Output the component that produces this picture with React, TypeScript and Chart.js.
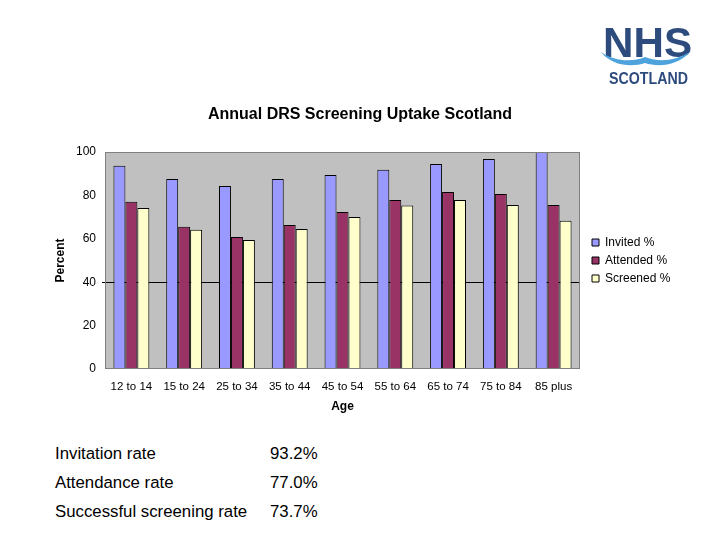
import React, { useEffect, useRef } from "react";
import { Chart, registerables } from "chart.js";

Chart.register(...registerables);

const categories = ["12 to 14", "15 to 24", "25 to 34", "35 to 44", "45 to 54", "55 to 64", "65 to 74", "75 to 84", "85 plus"];
const invited = [93.7, 87.6, 84.3, 87.6, 89.4, 91.8, 94.5, 96.8, 100];
const attended = [77.1, 65.6, 60.8, 66.4, 72.4, 77.9, 81.6, 80.6, 75.6];
const screened = [74.2, 64.2, 59.4, 64.5, 70.0, 75.4, 77.9, 75.6, 68.3];
const yTicks = [0, 20, 40, 60, 80, 100];
const summaryLabels = ["Invitation rate", "Attendance rate", "Successful screening rate"];
const summaryValues = ["93.2%", "77.0%", "73.7%"];

const FONT = "'Liberation Sans', Arial, Helvetica, sans-serif";

export default function App() {
  const ref = useRef<HTMLCanvasElement>(null);

  useEffect(() => {
    if (!ref.current) return;

    const legendFont = 12;
    const legendPad = 6;
    const boxW = 7;
    const mctx = document.createElement("canvas").getContext("2d")!;
    mctx.font = `${legendFont}px ${FONT}`;
    const maxText = Math.max(...["Invited %", "Attended %", "Screened %"].map((t) => mctx.measureText(t).width));
    const legendW = legendPad + boxW + legendFont / 2 + maxText + 10;
    const plotRight = 580;
    const padSide = 720 - plotRight - legendW;

    const plotBg = {
      id: "plotBg",
      beforeDraw(chart: any) {
        const { ctx, chartArea: a } = chart;
        ctx.save();
        ctx.fillStyle = "#C0C0C0";
        ctx.fillRect(a.left, a.top, a.right - a.left, a.bottom - a.top);
        ctx.restore();
      },
      afterDraw(chart: any) {
        const { ctx, chartArea: a } = chart;
        ctx.save();
        ctx.strokeStyle = "#808080";
        ctx.lineWidth = 1;
        ctx.strokeRect(Math.round(a.left) + 0.5, Math.round(a.top) + 0.5, Math.round(a.right - a.left) - 1, Math.round(a.bottom - a.top) - 1);
        ctx.restore();
      },
    };

    const legendShift = {
      id: "legendShift",
      afterUpdate(chart: any) {
        if (chart.legend) {
          chart.legend.left += 6;
          chart.legend.right += 6;
        }
      },
    };

    Chart.defaults.font.family = FONT;
    Chart.defaults.color = "#000";

    const chart = new Chart(ref.current, {
      type: "bar",
      data: {
        labels: categories,
        datasets: [
          { label: "Invited %", data: invited, backgroundColor: "#9999FF", borderColor: "#000", borderWidth: 1 },
          { label: "Attended %", data: attended, backgroundColor: "#993366", borderColor: "#000", borderWidth: 1 },
          { label: "Screened %", data: screened, backgroundColor: "#FFFFCC", borderColor: "#000", borderWidth: 1 },
        ],
      },
      options: {
        responsive: false,
        animation: false,
        devicePixelRatio: 1,
        layout: { padding: { top: 100, left: padSide, right: padSide, bottom: 0 } },
        datasets: { bar: { categoryPercentage: 0.68, barPercentage: 1 } },
        plugins: {
          title: {
            display: true,
            text: "Annual DRS Screening Uptake Scotland",
            font: { size: 16, weight: "bold" },
            color: "#000",
            padding: { top: 5, bottom: 27.8 },
          },
          legend: {
            position: "right",
            fullSize: false,
            labels: {
              boxWidth: boxW,
              boxHeight: boxW,
              padding: legendPad,
              font: { size: legendFont },
              color: "#000",
            },
          },
          tooltip: { enabled: false },
        },
        scales: {
          x: {
            grid: { display: false, drawTicks: false },
            border: { display: false },
            ticks: { font: { size: 11.5 }, color: "#000", padding: 11, maxRotation: 0, autoSkip: false },
            title: { display: true, text: "Age", font: { size: 12, weight: "bold" }, color: "#000", padding: { top: 0, bottom: 15.8 } },
            afterFit: (s: any) => { s.height = 61; },
          },
          y: {
            min: 0,
            max: 100,
            afterBuildTicks: (s: any) => { s.ticks = yTicks.map((v) => ({ value: v })); },
            grid: {
              color: (c: any) => (c.tick && c.tick.value === 40 ? "#000" : "rgba(0,0,0,0)"),
              tickLength: 3,
              lineWidth: 1,
            },
            border: { display: false },
            ticks: { font: { size: 12 }, color: "#000", padding: 6 },
            title: { display: true, text: "Percent", font: { size: 12, weight: "bold" }, color: "#000", padding: { top: 60.5 - padSide - 7.2, bottom: 0 } },
            afterFit: (s: any) => { s.width = 105 - padSide; },
          },
        },
      },
      plugins: [plotBg, legendShift],
    });
    return () => chart.destroy();
  }, []);

  return (
    <div style={{ position: "fixed", left: 0, top: 0, width: 720, height: 540, background: "#fff", overflow: "hidden", fontFamily: FONT }}>
      <canvas ref={ref} width={720} height={430} style={{ position: "absolute", left: 0, top: 0, width: 720, height: 430 }} />
      <svg width={105} height={70} viewBox="0 0 105 70" style={{ position: "absolute", left: 595, top: 20 }}>
        <text x={8} y={37} fontFamily={FONT} fontWeight="bold" fontSize={42} fill="#2D4B7C" textLength={89} lengthAdjust="spacingAndGlyphs">NHS</text>
        <path d="M6 32 C 20 42, 38 42, 50 37 C 62 42, 80 42, 96 31 C 82 47, 62 47, 50 43 C 38 47, 18 47, 6 32 Z" fill="#4FA3DC" />
        <text x={14} y={64} fontFamily={FONT} fontWeight="bold" fontSize={16.5} fill="#2D4B7C" textLength={79} lengthAdjust="spacingAndGlyphs">SCOTLAND</text>
      </svg>
      {summaryLabels.map((l, i) => (
        <React.Fragment key={l}>
          <div style={{ position: "absolute", left: 55, top: 439 + i * 29, fontSize: 16.8, lineHeight: "29px", color: "#000", whiteSpace: "nowrap" }}>{l}</div>
          <div style={{ position: "absolute", left: 270, top: 439 + i * 29, fontSize: 16.8, lineHeight: "29px", color: "#000", whiteSpace: "nowrap" }}>{summaryValues[i]}</div>
        </React.Fragment>
      ))}
    </div>
  );
}
